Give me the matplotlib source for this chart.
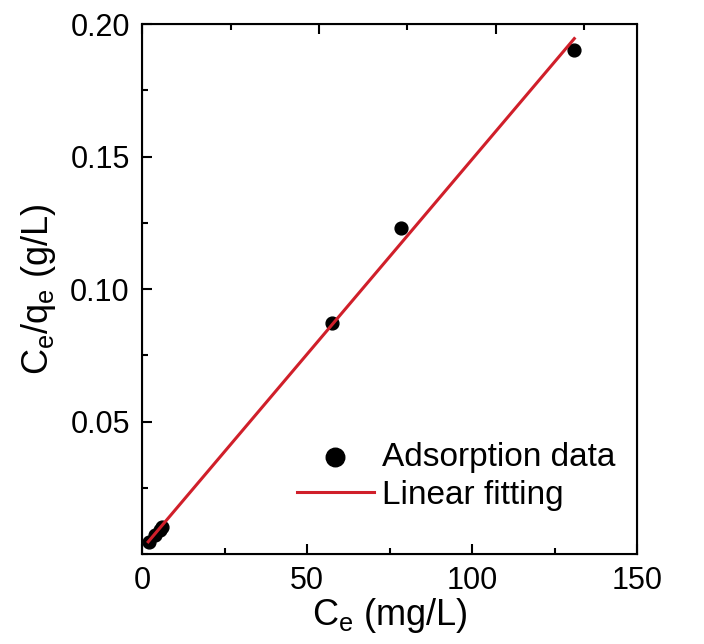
import matplotlib
matplotlib.use('Agg')
import numpy as np
import matplotlib.pyplot as plt
from matplotlib.ticker import MultipleLocator, NullFormatter

plt.rcParams['font.family'] = ['Liberation Sans', 'DejaVu Sans']
plt.rcParams['mathtext.fontset'] = 'custom'
plt.rcParams['mathtext.rm'] = 'Liberation Sans'
plt.rcParams['mathtext.it'] = 'Liberation Sans'

# adsorption data (Langmuir linear form)
ce = [2.0, 4.0, 5.5, 6.0, 57.4, 78.4, 131.0]
ce_qe = [0.0046, 0.0072, 0.0091, 0.0101, 0.0871, 0.1232, 0.1904]

# fitted line end points
fit_x = [1.8, 131.0]
fit_y = [0.0046, 0.1946]

red = '#d01f2a'

fig = plt.figure(figsize=(7.04, 6.44), dpi=100)
ax = fig.add_axes([0.2021, 0.1398, 0.7027, 0.8225])

ax.scatter(ce, ce_qe, s=85, color='black', zorder=3, label='Adsorption data')
ax.plot(fit_x, fit_y, color=red, lw=2.2, zorder=4, label='Linear fitting')

ax.set_xlim(0, 150)
ax.set_ylim(0, 0.2)
ax.xaxis.set_major_locator(MultipleLocator(50))
ax.xaxis.set_minor_locator(MultipleLocator(25))
ax.yaxis.set_minor_locator(MultipleLocator(0.025))
ax.set_yticks([0.05, 0.10, 0.15, 0.20])
ax.set_yticklabels(['0.05', '0.10', '0.15', '0.20'])

ax.tick_params(which='both', direction='in', width=1.5, labelsize=22, pad=9,
               top=False, right=False)
ax.tick_params(which='major', length=7)
ax.tick_params(which='minor', length=4.5)
for sp in ax.spines.values():
    sp.set_linewidth(1.5)

# top axis ticks (separate scale, no labels)
top = ax.twiny()
top.set_xlim(0, 140)
top.xaxis.set_major_locator(MultipleLocator(50))
top.xaxis.set_minor_locator(MultipleLocator(25))
top.xaxis.set_major_formatter(NullFormatter())
top.tick_params(which='both', direction='in', width=1.5)
top.tick_params(which='major', length=7)
top.tick_params(which='minor', length=4.5)

ax.set_xlabel(r'C$_\mathregular{e}$ (mg/L)', fontsize=26, labelpad=0)
ax.set_ylabel(r'C$_\mathregular{e}$/q$_\mathregular{e}$ (g/L)', fontsize=26, labelpad=9)

ax.legend(loc='lower right', bbox_to_anchor=(0.99, 0.05), frameon=False,
          fontsize=24, handlelength=2.3, handletextpad=0.25, labelspacing=0.2,
          borderpad=0, markerscale=1.45)

fig.savefig('out.png', dpi=100)
